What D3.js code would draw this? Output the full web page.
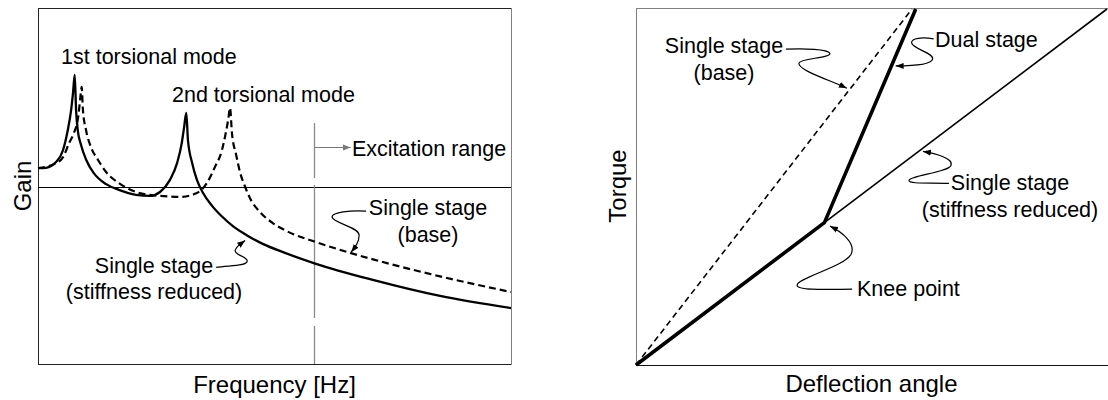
<!DOCTYPE html>
<html>
<head>
<meta charset="utf-8">
<script src="https://cdn.jsdelivr.net/npm/d3@7"></script>
<style>
  html, body { margin: 0; padding: 0; background: #fff; }
  svg { display: block; font-family: "Liberation Sans", Arial, Helvetica, sans-serif; }
</style>
</head>
<body>
<svg id="chart" width="1108" height="400"></svg>
<script>
// ---- Frequency response (relative frequency 0–100, gain relative to the reference level) ----
const freqReduced = [0, 1.7, 3.8, 5.3, 6.3, 7.0, 7.4, 7.76, 8.05, 8.4, 9.1, 10.2, 11.8, 14.4, 17.1, 20.7, 23.7,
  25.8, 27.9, 29.4, 30.4, 30.9, 31.35, 31.7, 32.6, 33.6, 34.9, 36.8, 38.9, 41.2, 44.2, 47.4, 52.2, 58.6, 70.8, 85.0, 100];
const gainReduced = [5.3, 5.4, 7.0, 10.4, 16.0, 21.6, 26.4, 31.5, 21.6, 16.0, 11.8, 7.6, 3.9, 0.8, -0.8, -2.2, -2.5,
  -1.4, 2.0, 6.7, 12.4, 16.9, 20.8, 13.2, 6.7, 2.0, -1.7, -5.3, -8.3, -11.0, -13.6, -15.9, -18.5, -21.5, -26.1, -30.6, -34.0];

const freqBase = [0, 3.8, 5.3, 6.6, 7.6, 8.5, 8.9, 9.24, 9.5, 10.15, 11.2, 12.7, 14.4, 17.1, 20.7, 23.5, 25.8, 30.0,
  33.6, 35.7, 37.4, 38.9, 39.7, 40.2, 40.6, 41.0, 41.9, 42.7, 43.8, 44.8, 46.9, 49.5, 52.6, 58.6, 66.0, 74.4, 85.0, 100];
const gainBase = [5.3, 6.7, 8.4, 12.4, 15.2, 19.7, 24.4, 28.1, 21.6, 16.0, 11.2, 7.6, 4.2, 1.1, -1.4, -2.2, -2.5, -2.8,
  -1.7, 1.1, 5.6, 10.4, 15.2, 18.8, 22.2, 15.2, 9.0, 4.2, 0, -3.1, -7.0, -10.0, -12.4, -15.4, -18.5, -21.6, -25.1, -29.5];

const referenceGain = 0;
const excitationFreq = 58.4;

// ---- Torque vs deflection (normalised) ----
const deflReduced = [0, 1];
const torqueReduced = [0, 1];
const deflBase = [0, 0.586];
const torqueBase = [0, 1];
const deflDual = [0, 0.40, 0.594];
const torqueDual = [0, 0.40, 1];

const svg = d3.select("#chart");
const ANN = 21.5, TITLE = 24;

// Arrow markers
const defs = svg.append("defs");
function marker(id, color) {
  defs.append("marker")
    .attr("id", id).attr("viewBox", "0 0 10 10")
    .attr("refX", 10).attr("refY", 5)
    .attr("markerWidth", 8).attr("markerHeight", 8)
    .attr("markerUnits", "userSpaceOnUse").attr("orient", "auto")
    .append("path").attr("d", "M0,1.2 L10,5 L0,8.8 Z").attr("fill", color);
}
marker("arrowBlack", "#000");
marker("arrowGray", "#777");

function zip(a, b) { return a.map((v, i) => [v, b[i]]); }

function text(g, str, x, y, anchor, size) {
  return g.append("text").attr("x", x).attr("y", y)
    .attr("text-anchor", anchor || "start")
    .attr("font-size", size || ANN).attr("fill", "#000").text(str);
}

// leader curve whose end (arrow tip) sits at a data point; path given relative to the tip
function leader(g, tip, d) {
  g.append("path")
    .attr("transform", `translate(${tip[0]},${tip[1]})`)
    .attr("d", d).attr("fill", "none").attr("stroke", "#000")
    .attr("stroke-width", 1.2).attr("marker-end", "url(#arrowBlack)");
}

// ================= Left panel: gain vs frequency =================
const L = { left: 38, right: 511, top: 8, bottom: 364 };
const xF = d3.scaleLinear().domain([0, 100]).range([L.left, L.right]);
const yG = d3.scaleLinear().domain([-50, 50]).range([L.bottom + 1, L.top + 1]);
const gL = svg.append("g");

// frame
gL.append("line").attr("x1", L.left + 0.5).attr("x2", L.right).attr("y1", L.top + 0.5).attr("y2", L.top + 0.5).attr("stroke", "#222");
gL.append("line").attr("x1", L.left + 0.5).attr("x2", L.left + 0.5).attr("y1", L.top).attr("y2", L.bottom + 0.5).attr("stroke", "#222");
gL.append("line").attr("x1", L.left).attr("x2", L.right + 0.5).attr("y1", L.bottom + 0.5).attr("y2", L.bottom + 0.5).attr("stroke", "#222");
gL.append("line").attr("x1", L.right + 0.5).attr("x2", L.right + 0.5).attr("y1", L.top).attr("y2", L.bottom + 0.5).attr("stroke", "#808080");

// reference gain level
const refY = Math.round(yG(referenceGain)) + 0.5;
gL.append("line")
  .attr("x1", xF(0)).attr("x2", xF(100))
  .attr("y1", refY).attr("y2", refY)
  .attr("stroke", "#000").attr("stroke-width", 1);

// excitation range marker
const exX = Math.round(xF(excitationFreq)) + 0.5;
gL.append("line")
  .attr("x1", exX).attr("x2", exX).attr("y1", yG(18)).attr("y2", L.bottom)
  .attr("stroke", "#8a8a8a").attr("stroke-width", 1.3)
  .attr("stroke-dasharray", "55,7,133,8,200");
const arrY = Math.round(yG(11.2)) + 0.5;
gL.append("line")
  .attr("x1", exX).attr("x2", xF(66.1)).attr("y1", arrY).attr("y2", arrY)
  .attr("stroke", "#777").attr("stroke-width", 1.2).attr("marker-end", "url(#arrowGray)");
text(gL, "Excitation range", 352, 156);

const lineF = d3.line().x(d => xF(d[0])).y(d => yG(d[1])).curve(d3.curveMonotoneX);
gL.append("path").datum(zip(freqBase, gainBase)).attr("d", lineF)
  .attr("fill", "none").attr("stroke", "#000").attr("stroke-width", 2.2)
  .attr("stroke-dasharray", "7,4");
gL.append("path").datum(zip(freqReduced, gainReduced)).attr("d", lineF)
  .attr("fill", "none").attr("stroke", "#000").attr("stroke-width", 2.3);

text(gL, "1st torsional mode", 61, 64);
text(gL, "2nd torsional mode", 172, 102);

text(gL, "Single stage", 428, 215, "middle");
text(gL, "(base)", 428, 242, "middle");
leader(gL, [xF(66.2), yG(-18.3)],
  "M15,-41 C0,-42 -20,-40 -19,-35 C-18,-29 8,-25 8,-17 C8,-10 4,-5 0,0");

text(gL, "Single stage", 154, 273, "middle");
text(gL, "(stiffness reduced)", 154, 299, "middle");
leader(gL, [xF(43.8), yG(-15.0)],
  "M-29,27 C-17,25 1,26 2,21 C3,16 -11,15 -10,10 C-9,6 -4,3 0,0");

// axis titles
text(gL, "Frequency [Hz]", (L.left + L.right) / 2, 393, "middle", TITLE);
gL.append("text").attr("transform", `translate(31,${(L.top + L.bottom) / 2}) rotate(-90)`)
  .attr("text-anchor", "middle").attr("font-size", TITLE).text("Gain");

// ================= Right panel: torque vs deflection =================
const R = { left: 636, right: 1107, top: 9, bottom: 365 };
const xD = d3.scaleLinear().domain([0, 1]).range([R.left, R.right]);
const yT = d3.scaleLinear().domain([0, 1]).range([R.bottom, R.top]);
const gR = svg.append("g");

gR.append("line").attr("x1", R.left + 0.5).attr("x2", 1108).attr("y1", 8.5).attr("y2", 8.5).attr("stroke", "#808080");
gR.append("line").attr("x1", R.left + 0.5).attr("x2", R.left + 0.5).attr("y1", 8).attr("y2", R.bottom).attr("stroke", "#808080");
gR.append("line").attr("x1", R.left).attr("x2", 1108).attr("y1", R.bottom + 0.5).attr("y2", R.bottom + 0.5).attr("stroke", "#111");

const lineT = d3.line().x(d => xD(d[0])).y(d => yT(d[1]));
gR.append("path").datum(zip(deflBase, torqueBase)).attr("d", lineT)
  .attr("fill", "none").attr("stroke", "#000").attr("stroke-width", 1.6).attr("stroke-dasharray", "6,4");
gR.append("path").datum(zip(deflReduced, torqueReduced)).attr("d", lineT)
  .attr("fill", "none").attr("stroke", "#000").attr("stroke-width", 1.6);
gR.append("path").datum(zip(deflDual, torqueDual)).attr("d", lineT)
  .attr("fill", "none").attr("stroke", "#000").attr("stroke-width", 3.6).attr("stroke-linejoin", "round");

text(gR, "Single stage", 724, 53, "middle");
text(gR, "(base)", 724, 80, "middle");
leader(gR, [xD(0.452), yT(0.772)],
  "M-63,-41 C-44,-42 -21,-41 -19,-37 C-17,-32 -49,-32 -50,-27 C-51,-20 -19,-10 -2,-2");

text(gR, "Dual stage", 935, 47);
leader(gR, [xD(0.547), yT(0.84)],
  "M40,-27 C29,-29 17,-28 18,-23 C19,-17 40,-13 39,-7 C38,-1 19,0 2,0");

text(gR, "Single stage", 1010, 190, "middle");
text(gR, "(stiffness reduced)", 1010, 217, "middle");
leader(gR, [xD(0.605), yT(0.60)],
  "M28,32 C13,31 -13,33 -12,29 C-11,24 27,21 30,14 C33,7 14,2 2,0");

text(gR, "Knee point", 857, 296);
leader(gR, [xD(0.41), yT(0.39)],
  "M23,63 C6,63 -32,65 -32,59 C-32,52 16,40 22,28 C27,17 13,6 1,0");

text(gR, "Deflection angle", (R.left + R.right) / 2, 392, "middle", TITLE);
gR.append("text").attr("transform", `translate(626,186) rotate(-90)`)
  .attr("text-anchor", "middle").attr("font-size", TITLE).text("Torque");
</script>
</body>
</html>
